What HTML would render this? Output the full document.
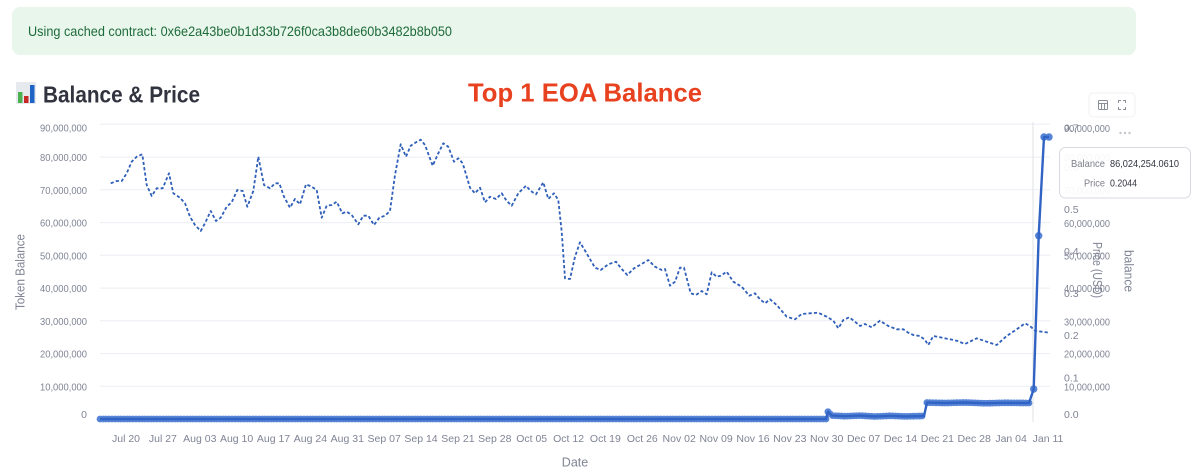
<!DOCTYPE html>
<html>
<head>
<meta charset="utf-8">
<style>
  html,body{margin:0;padding:0;background:#fff;}
  body{width:1200px;height:475px;overflow:hidden;}
  svg{display:block;}
  text{font-family:"Liberation Sans",Arial,sans-serif;}
</style>
</head>
<body>
<svg width="1200" height="475" viewBox="0 0 1200 475" xmlns="http://www.w3.org/2000/svg">
  <rect x="0" y="0" width="1200" height="475" fill="#fff"/>

  <!-- banner -->
  <rect x="12" y="7" width="1124" height="48" rx="8" fill="#e9f6ec"/>
  <text x="28" y="36" font-size="14" fill="#1e6b3a" textLength="424" lengthAdjust="spacingAndGlyphs">Using cached contract: 0x6e2a43be0b1d33b726f0ca3b8de60b3482b8b050</text>

  <!-- title emoji -->
  <rect x="16" y="82" width="20" height="22" fill="#e6e9ee" rx="1"/>
  <rect x="18" y="92" width="4.5" height="11" fill="#4caf50"/>
  <rect x="24" y="96" width="4.5" height="7" fill="#c62828"/>
  <rect x="30" y="85" width="4.5" height="18" fill="#1e63c6"/>
  <text x="43" y="102.5" font-size="23" font-weight="bold" fill="#31333f" textLength="157" lengthAdjust="spacingAndGlyphs">Balance &amp; Price</text>

  <text x="468" y="101.5" font-size="26" font-weight="bold" fill="#e8411f" textLength="234" lengthAdjust="spacingAndGlyphs">Top 1 EOA Balance</text>

  <!-- modebar -->
  <rect x="1089" y="93" width="46" height="24" rx="4" fill="#fff" stroke="#f0f0f2" stroke-width="1"/>
  <g stroke="#8a8c96" stroke-width="1" fill="none">
    <rect x="1098.5" y="100.5" width="9" height="9" rx="1"/>
    <line x1="1098.5" y1="103.5" x2="1107.5" y2="103.5"/>
    <line x1="1101.5" y1="103.5" x2="1101.5" y2="109.5"/>
    <line x1="1104.5" y1="103.5" x2="1104.5" y2="109.5"/>
    <path d="M1118.5 103 v-2.5 h2.5 M1123 100.5 h2.5 v2.5 M1125.5 107 v2.5 h-2.5 M1121 109.5 h-2.5 v-2.5"/>
  </g>
  <g fill="#c4c6cc">
    <circle cx="1120.5" cy="133" r="1.2"/>
    <circle cx="1125" cy="133" r="1.2"/>
    <circle cx="1129.5" cy="133" r="1.2"/>
  </g>

  <!-- gridlines -->
  <g stroke="#eceef2" stroke-width="1">
    <line x1="100" y1="124.3" x2="1050" y2="124.3"/>
    <line x1="100" y1="157.1" x2="1050" y2="157.1"/>
    <line x1="100" y1="189.8" x2="1050" y2="189.8"/>
    <line x1="100" y1="222.6" x2="1050" y2="222.6"/>
    <line x1="100" y1="255.3" x2="1050" y2="255.3"/>
    <line x1="100" y1="288.1" x2="1050" y2="288.1"/>
    <line x1="100" y1="320.8" x2="1050" y2="320.8"/>
    <line x1="100" y1="353.6" x2="1050" y2="353.6"/>
    <line x1="100" y1="386.3" x2="1050" y2="386.3"/>
  </g>
  <line x1="1033" y1="122" x2="1033" y2="422" stroke="#dfe1e6" stroke-width="1"/>

  <!-- left axis labels -->
  <g font-size="10.5" fill="#808495" text-anchor="end">
    <text x="87" y="131.3" textLength="47" lengthAdjust="spacingAndGlyphs">90,000,000</text>
    <text x="87" y="161.1" textLength="47" lengthAdjust="spacingAndGlyphs">80,000,000</text>
    <text x="87" y="193.8" textLength="47" lengthAdjust="spacingAndGlyphs">70,000,000</text>
    <text x="87" y="226.3" textLength="47" lengthAdjust="spacingAndGlyphs">60,000,000</text>
    <text x="87" y="259.3" textLength="47" lengthAdjust="spacingAndGlyphs">50,000,000</text>
    <text x="87" y="291.8" textLength="47" lengthAdjust="spacingAndGlyphs">40,000,000</text>
    <text x="87" y="324.8" textLength="47" lengthAdjust="spacingAndGlyphs">30,000,000</text>
    <text x="87" y="357.3" textLength="47" lengthAdjust="spacingAndGlyphs">20,000,000</text>
    <text x="87" y="390.3" textLength="47" lengthAdjust="spacingAndGlyphs">10,000,000</text>
    <text x="87" y="417.8">0</text>
  </g>
  <text transform="translate(24.5,272) rotate(-90)" font-size="12.5" fill="#808495" text-anchor="middle" textLength="76" lengthAdjust="spacingAndGlyphs">Token Balance</text>

  <!-- right balance axis labels -->
  <g font-size="10.5" fill="#808495">
    <text x="1064" y="131.8" textLength="46" lengthAdjust="spacingAndGlyphs">90,000,000</text>
    <text x="1064" y="161" textLength="46" lengthAdjust="spacingAndGlyphs">80,000,000</text>
    <text x="1064" y="194" textLength="46" lengthAdjust="spacingAndGlyphs">70,000,000</text>
    <text x="1064" y="227" textLength="46" lengthAdjust="spacingAndGlyphs">60,000,000</text>
    <text x="1064" y="259.5" textLength="46" lengthAdjust="spacingAndGlyphs">50,000,000</text>
    <text x="1064" y="291.8" textLength="46" lengthAdjust="spacingAndGlyphs">40,000,000</text>
    <text x="1064" y="325.5" textLength="46" lengthAdjust="spacingAndGlyphs">30,000,000</text>
    <text x="1064" y="357.5" textLength="46" lengthAdjust="spacingAndGlyphs">20,000,000</text>
    <text x="1064" y="390.5" textLength="46" lengthAdjust="spacingAndGlyphs">10,000,000</text>
  </g>
  <!-- price axis labels -->
  <g font-size="10.5" fill="#808495">
    <text x="1064" y="131.5">0.7</text>
    <text x="1064" y="171">0.6</text>
    <text x="1064" y="212.8">0.5</text>
    <text x="1064" y="254.8">0.4</text>
    <text x="1064" y="296.8">0.3</text>
    <text x="1064" y="339">0.2</text>
    <text x="1064" y="381.5">0.1</text>
    <text x="1064" y="418">0.0</text>
  </g>
  <text transform="translate(1093,270) rotate(90)" font-size="12.5" fill="#808495" text-anchor="middle" textLength="56" lengthAdjust="spacingAndGlyphs">Price (USD)</text>
  <text transform="translate(1124.5,271) rotate(90)" font-size="12.5" fill="#808495" text-anchor="middle" textLength="42" lengthAdjust="spacingAndGlyphs">balance</text>

  <!-- x ticks -->
  <g font-size="10.5" fill="#808495" text-anchor="middle">
    <text x="126" y="441.8">Jul 20</text>
    <text x="162.9" y="441.8">Jul 27</text>
    <text x="199.8" y="441.8">Aug 03</text>
    <text x="236.6" y="441.8">Aug 10</text>
    <text x="273.5" y="441.8">Aug 17</text>
    <text x="310.4" y="441.8">Aug 24</text>
    <text x="347.3" y="441.8">Aug 31</text>
    <text x="384.2" y="441.8">Sep 07</text>
    <text x="421" y="441.8">Sep 14</text>
    <text x="457.9" y="441.8">Sep 21</text>
    <text x="494.8" y="441.8">Sep 28</text>
    <text x="531.7" y="441.8">Oct 05</text>
    <text x="568.6" y="441.8">Oct 12</text>
    <text x="605.4" y="441.8">Oct 19</text>
    <text x="642.3" y="441.8">Oct 26</text>
    <text x="679.2" y="441.8">Nov 02</text>
    <text x="716.1" y="441.8">Nov 09</text>
    <text x="753" y="441.8">Nov 16</text>
    <text x="789.8" y="441.8">Nov 23</text>
    <text x="826.7" y="441.8">Nov 30</text>
    <text x="863.6" y="441.8">Dec 07</text>
    <text x="900.5" y="441.8">Dec 14</text>
    <text x="937.4" y="441.8">Dec 21</text>
    <text x="974.2" y="441.8">Dec 28</text>
    <text x="1011.1" y="441.8">Jan 04</text>
    <text x="1048" y="441.8">Jan 11</text>
  </g>
  <text x="575" y="466.5" font-size="12.5" fill="#808495" text-anchor="middle">Date</text>

  <!-- price dashed line -->
  <polyline fill="none" stroke="#2f5fb8" stroke-width="1.8" stroke-dasharray="3.2,2.2" stroke-linejoin="round"
    points="110.7,183.3 116.7,181 121.7,181 126.7,173.3 131.7,161.7 136.7,156.7 142.3,154.3 146.7,185 151.7,196 156.7,188.3 162.7,188.3 169,173.3 173.3,193.3 180,197.7 185,203.3 190,216.7 195,225 200.7,231 205,223.3 210.7,211 216,221 220.7,217.7 226.7,206.7 231.7,202.3 237.3,190 242.7,191 247.3,206.7 253.3,191 258.3,156.7 264,185 270,188.3 275,183.3 279.3,183.3 284,196.7 290,207.7 295,199 300,204.3 306,184.3 311.7,186.7 316.7,190 321.7,217.7 326.7,205.7 331.7,205 336.7,201.7 342.3,213.3 346.7,211.7 351.7,215 358.3,224.3 363.3,215.7 368.3,215.7 374,225 379.3,217.7 385,215.7 390,211 395,175 400.7,144.3 406,156.7 410.7,145.7 416,142.3 420.7,139.7 425,145 432.7,165.7 438.3,153.3 443.3,143.3 448.3,146.7 454,161.7 458.3,158.3 462.7,163.3 470,187.7 475,193.3 480,187.7 485,202.3 490,196.7 496,199 501.7,193.3 506.7,201 511.7,205.7 518.3,193.3 526,185.7 530.7,191 536,194.3 543.3,182.3 548.3,199 554,193.3 558.3,200 561.7,231.7 565,278.3 570,279 575,256.7 580,242.3 586,252.3 595,267.7 600.7,270 608.3,264.3 616,261.7 621.7,269 627.3,275 634,268.3 640,265 648.3,260 655,266.7 661.7,270 665,269 670,285.7 675,281.7 680,267.7 684,267.7 690.7,293.3 696,295 701.7,291 706.7,294.3 711.7,272.3 716.7,276.7 720.7,275.7 726.7,271.7 733.3,281.7 741.7,286.7 749.3,295.7 755,293.3 760,299.3 765,303.3 770,299.3 776.7,305 786.7,316.7 795,319.3 801.7,314 810,313.3 818.3,312.7 826.7,316.7 833.3,320.7 838.3,328.3 843.3,320 849.3,317.3 855,321.7 860,326 865,324 871.7,327.3 880,320.7 888.3,326 896.7,329.3 903.3,329.3 908.3,332.7 913.3,335 920,336 925,340 928.3,345 933.3,336 940,337.3 950,339.3 956.7,340.7 965,344 976.7,338.3 986.7,341.7 996.7,345 1006.7,336 1016.7,329.3 1025,323.3 1030,326 1035,330.7 1041.7,331.7 1049.3,332.7"/>

  <!-- balance markers (dotted chains) -->
  <g fill="none" stroke="#5684d6" stroke-width="6.8" stroke-linecap="round" stroke-dasharray="0,3">
    <polyline points="100,419 826,419"/>
    <polyline points="828,411.8 832,415.6 845,416.2 860,415.6 875,416.5 890,415.8 905,416.4 922,416"/>
    <polyline points="927,402.6 945,403 965,402.5 985,403.3 1005,402.8 1029,403"/>
  </g>
  <g fill="#5684d6">
    <circle cx="826" cy="419" r="3.4"/>
    <circle cx="828" cy="411.8" r="3.4"/>
    <circle cx="922" cy="416" r="3.4"/>
    <circle cx="927" cy="402.6" r="3.4"/>
    <circle cx="1033.7" cy="389" r="3.7"/>
    <circle cx="1038.7" cy="235.7" r="3.7"/>
    <circle cx="1044" cy="137" r="3.7"/>
    <circle cx="1049" cy="137" r="3.7"/>
  </g>
  <!-- balance line -->
  <polyline fill="none" stroke="#3163c4" stroke-width="2.4" stroke-linejoin="round"
    points="100,419 826,419 828,411.8 832,415.6 845,416.2 860,415.6 875,416.5 890,415.8 905,416.4 922,416 924,416 927,402.6 945,403 965,402.5 985,403.3 1005,402.8 1029,403 1033.7,389 1038.7,235.7 1044,137 1049,137"/>

  <!-- tooltip -->
  <rect x="1059.5" y="147.5" width="131" height="50.5" rx="6" fill="rgba(255,255,255,0.93)" stroke="#d8dae0" stroke-width="1"/>
  <g font-size="10.5">
    <text x="1105" y="167" text-anchor="end" fill="#7d7f8a" textLength="34" lengthAdjust="spacingAndGlyphs">Balance</text>
    <text x="1110" y="167" fill="#31333f" textLength="69" lengthAdjust="spacingAndGlyphs">86,024,254.0610</text>
    <text x="1105" y="186.5" text-anchor="end" fill="#7d7f8a" textLength="21" lengthAdjust="spacingAndGlyphs">Price</text>
    <text x="1110" y="186.5" fill="#31333f" textLength="27" lengthAdjust="spacingAndGlyphs">0.2044</text>
  </g>
</svg>
</body>
</html>
